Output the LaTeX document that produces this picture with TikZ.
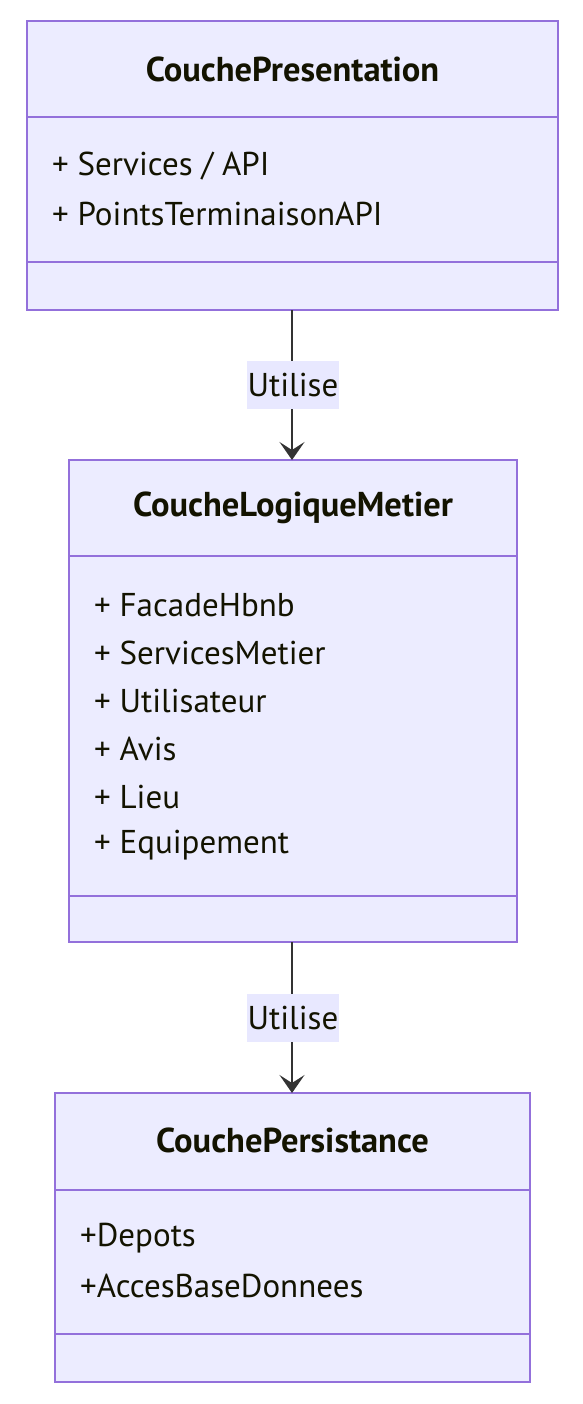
\documentclass[tikz,border=0pt]{standalone}
\usepackage{fontspec}
\setmainfont{PT Sans}
\usetikzlibrary{arrows.meta}
\definecolor{boxfill}{HTML}{ECECFF}
\definecolor{boxline}{HTML}{9370DB}
\definecolor{txt}{HTML}{131300}
\definecolor{edge}{HTML}{333333}
\definecolor{lblbg}{HTML}{E8E8FF}
\begin{document}
\begin{tikzpicture}[x=1pt,y=-1pt,
  classbox/.style={draw=boxline,fill=boxfill,line width=1.6pt},
  divider/.style={draw=boxline,line width=1.6pt},
  title/.style={font=\fontsize{34.5}{40}\selectfont\bfseries,text=txt,inner sep=0pt},
  member/.style={font=\fontsize{33}{38}\selectfont,text=txt,anchor=west,inner sep=0pt},
  rel/.style={draw=edge,line width=1.8pt,-{Stealth[length=18pt,width=25pt,inset=8pt]}},
  lbl/.style={fill=lblbg,font=\fontsize{33}{38}\selectfont,text=txt,inner sep=0pt,minimum width=92pt,minimum height=48pt}]
\useasboundingbox (0,0) rectangle (582,1404);
% Box 1
\path[classbox] (27,21) rectangle (558,310);
\draw[divider] (27,117) -- (558,117);
\draw[divider] (27,262) -- (558,262);
\node[title] (t1) at (292.5,69) {CouchePresentation};
\node[member] (m11) at (52,166) {+ Services / API};
\node[member] (m12) at (52,214) {+ PointsTerminaisonAPI};
\coordinate (b1bot) at (292,310);
% Box 2
\path[classbox] (69,460) rectangle (517,942);
\draw[divider] (69,556) -- (517,556);
\draw[divider] (69,896) -- (517,896);
\node[title] (t2) at (293,508) {CoucheLogiqueMetier};
\node[member] (m21) at (94,605) {+ FacadeHbnb};
\node[member] (m22) at (94,653) {+ ServicesMetier};
\node[member] (m23) at (94,701) {+ Utilisateur};
\node[member] (m24) at (94,749) {+ Avis};
\node[member] (m25) at (94,797) {+ Lieu};
\node[member] (m26) at (94,845) {+ Equipement};
\coordinate (b2top) at (292,460);
\coordinate (b2bot) at (292,942);
% Box 3
\path[classbox] (55,1093) rectangle (530,1382);
\draw[divider] (55,1190) -- (530,1190);
\draw[divider] (55,1334) -- (530,1334);
\node[title] (t3) at (292.5,1140) {CouchePersistance};
\node[member] (m31) at (80,1238) {+Depots};
\node[member] (m32) at (80,1286) {+AccesBaseDonnees};
\coordinate (b3top) at (292,1093);
% Edges
\draw[rel] (b1bot) -- (b2top);
\node[lbl] (l1) at (293,385) {Utilise};
\draw[rel] (b2bot) -- (b3top);
\node[lbl] (l2) at (293,1018) {Utilise};
\end{tikzpicture}
\end{document}
